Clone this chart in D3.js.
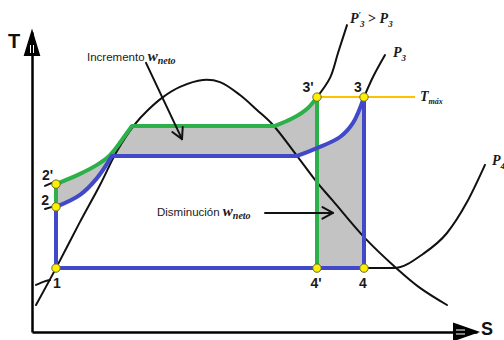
<!DOCTYPE html>
<html>
<head>
<meta charset="utf-8">
<script src="https://cdn.jsdelivr.net/npm/d3@7"></script>
<style>
  html, body { margin: 0; padding: 0; background: #fff; }
  svg { display: block; }
</style>
</head>
<body>
<svg id="chart" width="504" height="340"></svg>
<script>
// ---- State points of the two Rankine cycles (entropy s, temperature T) ----
const stateNames = ["1", "2", "2'", "3'", "3", "4'", "4"];
const stateS     = [0.6, 0.6, 0.6, 7.125, 8.3, 7.125, 8.3];
const stateT     = [2.13, 4.17, 4.93, 7.83, 7.83, 2.13, 2.13];

// Heat addition at P3: liquid heating, evaporation plateau, superheating
const blueRise    = [[0.6, 4.17], [1.2, 4.57], [1.625, 5.13], [2.0, 5.87]];
const bluePlateau = [[2.0, 5.87], [6.625, 5.87]];
const blueSuper   = [[6.625, 5.87], [7.125, 6.13], [7.7, 6.5], [8.025, 6.97], [8.3, 7.83]];

// Heat addition at the higher pressure P3'
const greenRise    = [[0.6, 4.93], [1.2, 5.27], [1.625, 5.57], [1.9, 5.83], [2.1, 6.13], [2.3, 6.5], [2.5, 6.87]];
const greenPlateau = [[2.5, 6.87], [6.075, 6.87]];
const greenSuper   = [[6.075, 6.87], [6.525, 7.13], [6.9, 7.47], [7.125, 7.83]];

// Saturation dome
const dome = [[0.1, 0.9], [0.6, 2.13], [1.2, 3.67], [1.7, 4.9], [2.125, 6.03], [2.575, 6.93],
              [2.9, 7.4], [3.275, 7.83], [3.7, 8.17], [4.275, 8.4], [4.7, 8.33], [5.2, 7.9],
              [5.625, 7.4], [6.025, 6.9], [6.625, 5.87], [7.1, 5.03], [7.525, 4.37],
              [8.325, 3.13], [9.075, 2.17], [9.7, 1.47], [10.375, 0.9]];

// Isobars beyond the cycle
const isoP3p = [[7.125, 7.83], [7.45, 8.47], [7.65, 9.3], [7.875, 10.23]];
const isoP3  = [[8.3, 7.83], [8.525, 8.5], [8.825, 9.23]];
const isoP4  = [[8.3, 2.13], [9.05, 2.13], [9.775, 2.6], [10.375, 3.3], [10.875, 4.33], [11.325, 5.57]];
// short isobar stubs left of points 1, 2 and 2'
const stubs  = [[[0.1, 1.57], [0.3, 1.68], [0.45, 1.73]],
                [[0.325, 4.1], [0.5, 4.17]],
                [[0.325, 4.87], [0.5, 4.97]]];

// Maximum temperature line
const tMax = 7.83;
const tMaxLineS = [7.125, 9.575];

// Axis extents and titles
const sDomain = [0, 11.125];
const tDomain = [0, 10];
const axisTitles = ["T", "S"];

// Annotation texts
const noteIncr = "Incremento";
const noteDecr = "Disminución";
const workSymbol = "w";
const workSub = "neto";

// ---- Scales ----
const x = d3.scaleLinear().domain(sDomain).range([32, 477]);
const y = d3.scaleLinear().domain(tDomain).range([332, 32]);

const svg = d3.select("#chart");
const cr = d3.curveCatmullRom.alpha(0.5);

function L(points, curve) {
  return d3.line().x(d => x(d[0])).y(d => y(d[1])).curve(curve || d3.curveLinear)(points);
}
function join(...paths) {
  return paths.map((p, i) => (i ? p.replace(/^M/, "L") : p)).join("");
}
const rev = a => a.slice().reverse();
const P = i => [stateS[i], stateT[i]];
const [p1, p2, p2p, p3p, p3, p4p, p4] = stateNames.map((_, i) => P(i));

const BLUE = "#4149c9", GREEN = "#2bb04a", ORANGE = "#ffc000", GRAY = "#c3c3c3";

// ---- Net work difference (shaded) ----
svg.append("path")
  .attr("d", join(
    L(greenRise, cr), L(greenPlateau), L(greenSuper, cr),
    L([p3p, p4p, p4, p3]),
    L(rev(blueSuper), cr), L(rev(bluePlateau)), L(rev(blueRise), cr)) + "Z")
  .attr("fill", GRAY)
  .attr("stroke", "none");

// ---- Dome and isobars ----
const black = svg.append("g").attr("fill", "none").attr("stroke", "#111")
  .attr("stroke-width", 2).attr("stroke-linecap", "round");
black.append("path").attr("d", L(dome, cr));
black.append("path").attr("d", L(isoP3p, cr));
black.append("path").attr("d", L(isoP3, cr));
black.append("path").attr("d", L(isoP4, d3.curveMonotoneX));
stubs.forEach(s => black.append("path").attr("d", L(s, cr)));

// ---- Axes ----
const axisY = svg.append("g").attr("transform", `translate(${x(0)},0)`)
  .call(d3.axisLeft(y).tickValues([]).tickSizeOuter(0));
const axisX = svg.append("g").attr("transform", `translate(0,${y(0)})`)
  .call(d3.axisBottom(x).tickValues([]).tickSizeOuter(0));
[axisY, axisX].forEach(a => a.select(".domain").attr("stroke", "#000").attr("stroke-width", 2.5));

// arrowheads
const ax0 = x(0), ay0 = y(0), axTop = y(tDomain[1]), axRight = x(sDomain[1]);
svg.append("path")
  .attr("d", `M${ax0},${axTop}L${ax0 - 7},${axTop + 23}L${ax0 + 7},${axTop + 23}Z`)
  .attr("fill", "#000").attr("stroke", "#000").attr("stroke-width", 2).attr("stroke-linejoin", "miter");
svg.append("path")
  .attr("d", `M${ax0 - 1.5},${axTop + 13}L${ax0 - 1.5},${axTop + 21}M${ax0 + 1.5},${axTop + 13}L${ax0 + 1.5},${axTop + 21}`)
  .attr("stroke", "#fff").attr("stroke-width", 1);
svg.append("path")
  .attr("d", `M${axRight},${ay0}L${axRight - 23},${ay0 - 8}L${axRight - 23},${ay0 + 8}Z`)
  .attr("fill", "#000").attr("stroke", "#000").attr("stroke-width", 2);
svg.append("path")
  .attr("d", `M${axRight - 21},${ay0 - 2}L${axRight - 12},${ay0 - 2}M${axRight - 21},${ay0 + 2}L${axRight - 12},${ay0 + 2}`)
  .attr("stroke", "#fff").attr("stroke-width", 1);

svg.append("text").attr("x", 8).attr("y", 48).text(axisTitles[0])
  .attr("font-family", "Liberation Sans, Arial, sans-serif").attr("font-weight", "bold")
  .attr("font-size", 20).attr("fill", "#111");
svg.append("text").attr("x", axRight + 4).attr("y", ay0 + 3).text(axisTitles[1])
  .attr("font-family", "Liberation Sans, Arial, sans-serif").attr("font-weight", "bold")
  .attr("font-size", 18).attr("fill", "#111");

// ---- Cycles ----
svg.append("path")
  .attr("d", join(L([p2, p2p]), L(greenRise, cr), L(greenPlateau), L(greenSuper, cr), L([p3p, p4p])))
  .attr("fill", "none").attr("stroke", GREEN).attr("stroke-width", 4).attr("stroke-linejoin", "round");
svg.append("path")
  .attr("d", join(L([p4, p1, p2]), L(blueRise, cr), L(bluePlateau), L(blueSuper, cr), L([p3, p4])))
  .attr("fill", "none").attr("stroke", BLUE).attr("stroke-width", 4).attr("stroke-linejoin", "round");

// Maximum temperature
svg.append("line")
  .attr("x1", x(tMaxLineS[0])).attr("x2", x(tMaxLineS[1]))
  .attr("y1", y(tMax)).attr("y2", y(tMax))
  .attr("stroke", ORANGE).attr("stroke-width", 2);

// ---- State points ----
svg.append("g").selectAll("circle").data(stateNames).join("circle")
  .attr("cx", (d, i) => x(stateS[i])).attr("cy", (d, i) => y(stateT[i]))
  .attr("r", 4.2).attr("fill", "#ffef00").attr("stroke", "#6b6b2a").attr("stroke-width", 1);

// state labels: [dx, dy, anchor]
const labelPlace = {
  "1": [1, 20, "middle"], "2": [-7, -2, "end"], "2'": [-3, -4, "end"],
  "3'": [-9, -5, "middle"], "3": [-6, -5, "middle"], "4'": [-1, 20, "middle"], "4": [-1, 20, "middle"]
};
svg.append("g").selectAll("text").data(stateNames).join("text")
  .attr("x", (d, i) => x(stateS[i]) + labelPlace[d][0])
  .attr("y", (d, i) => y(stateT[i]) + labelPlace[d][1])
  .attr("text-anchor", d => labelPlace[d][2])
  .attr("font-family", "Liberation Sans, Arial, sans-serif").attr("font-weight", "bold")
  .attr("font-size", 14).attr("fill", "#1a1a1a")
  .text(d => d);

// ---- Pressure and temperature labels ----
const serif = "Liberation Serif, Times New Roman, serif";
function mathLabel(px, py, parts) {
  const t = svg.append("text").attr("x", px).attr("y", py)
    .attr("font-family", serif).attr("font-style", "italic").attr("font-weight", "bold")
    .attr("font-size", 14).attr("fill", "#1a1a1a");
  parts.forEach(p => {
    const s = t.append("tspan").text(p.t);
    if (p.size) s.attr("font-size", p.size);
    if (p.dx) s.attr("dx", p.dx);
    if (p.dy) s.attr("dy", p.dy);
    if (p.upright) s.attr("font-style", "normal");
  });
}
const endP3p = isoP3p[isoP3p.length - 1], endP3 = isoP3[isoP3.length - 1], endP4 = isoP4[isoP4.length - 1];
mathLabel(x(endP3p[0]) + 3, y(endP3p[1]) - 2, [
  { t: "P" }, { t: "′", size: 9, dy: -5 }, { t: "3", size: 9, dx: -1, dy: 9 },
  { t: " > ", upright: true, dy: -4 }, { t: "P" }, { t: "3", size: 9, dy: 4 }
]);
mathLabel(x(endP3[0]) + 8, y(endP3[1]) + 2, [{ t: "P" }, { t: "3", size: 9, dy: 4 }]);
mathLabel(x(endP4[0]) + 7, y(endP4[1]), [{ t: "P" }, { t: "4", size: 9, dy: 4 }]);
mathLabel(x(tMaxLineS[1]) + 5, y(tMax) + 4, [{ t: "T" }, { t: "máx", size: 8, dy: 3 }]);

// ---- Annotations ----
function note(px, py, label) {
  const t = svg.append("text").attr("x", px).attr("y", py)
    .attr("font-family", "Liberation Sans, Arial, sans-serif").attr("font-size", 11.5).attr("fill", "#1a1a1a");
  t.append("tspan").text(label + " ");
  t.append("tspan").text(workSymbol).attr("font-family", serif).attr("font-style", "italic")
    .attr("font-weight", "bold").attr("font-size", 15);
  t.append("tspan").text(workSub).attr("font-family", serif).attr("font-style", "italic")
    .attr("font-weight", "bold").attr("font-size", 10).attr("dy", 3);
}
function arrow(a, b) {
  const x1 = x(a[0]), y1 = y(a[1]), x2 = x(b[0]), y2 = y(b[1]);
  const ang = Math.atan2(y2 - y1, x2 - x1), len = 12, spread = 0.5;
  const g = svg.append("g").attr("stroke", "#111").attr("stroke-width", 2).attr("fill", "none")
    .attr("stroke-linecap", "round").attr("stroke-linejoin", "round");
  g.append("line").attr("x1", x1).attr("y1", y1).attr("x2", x2).attr("y2", y2);
  g.append("path").attr("d",
    `M${x2 - len * Math.cos(ang - spread)},${y2 - len * Math.sin(ang - spread)}L${x2},${y2}` +
    `L${x2 - len * Math.cos(ang + spread)},${y2 - len * Math.sin(ang + spread)}`);
}
note(x(1.375), y(9.03), noteIncr);
arrow([2.85, 8.97], [3.75, 6.43]);
note(x(3.125), y(3.87), noteDecr);
arrow([5.825, 3.97], [7.525, 3.97]);
</script>
</body>
</html>
